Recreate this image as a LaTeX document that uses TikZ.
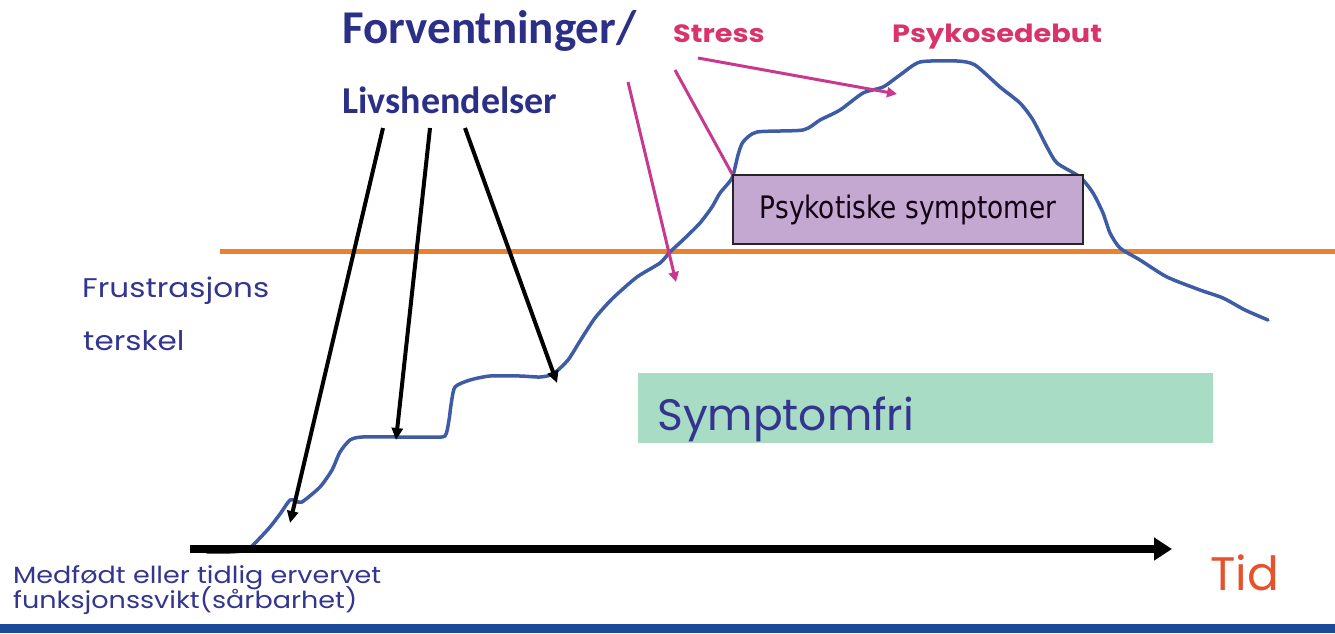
\documentclass[tikz,border=0pt]{standalone}
\usepackage{fontspec}
\setmainfont{Carlito}
\newfontfamily\comic{Poppins}
\newfontfamily\comicw[FakeStretch=1.15]{Poppins}
\newfontfamily\tahoma[FakeStretch=0.85]{DejaVu Sans}
\usetikzlibrary{arrows.meta}
\definecolor{titleblue}{HTML}{2B2F86}
\definecolor{comicblue}{HTML}{33358F}
\definecolor{pinktext}{HTML}{D8336B}
\definecolor{magarrow}{HTML}{C8388F}
\definecolor{orangeline}{HTML}{E98131}
\definecolor{curveblue}{HTML}{3E5BA6}
\definecolor{lavender}{HTML}{C4A8D2}
\definecolor{mint}{HTML}{A9DCC4}
\definecolor{tidred}{HTML}{E4532E}
\definecolor{barblue}{HTML}{1C4A9A}
\tikzset{
  txt/.style={anchor=base west, inner sep=0pt},
  titletxt/.style={txt, text=titleblue, font=\fontsize{47}{52}\selectfont\bfseries},
  subtitletxt/.style={txt, text=titleblue, font=\fontsize{38}{44}\selectfont\bfseries},
  pinklabel/.style={txt, text=pinktext, font=\comicw\fontsize{25}{28}\selectfont\bfseries},
  comictxt/.style={txt, text=comicblue, font=\comicw\fontsize{27}{30}\selectfont},
  smallcomic/.style={txt, text=comicblue, font=\comicw\fontsize{23.5}{26}\selectfont},
  blackarrow/.style={line width=4pt, -{Triangle[length=12pt,width=11pt]}},
  magline/.style={draw=magarrow, line width=3pt},
  magarrowstyle/.style={magline, -{Triangle[length=10pt,width=10pt]}},
}
\begin{document}
\begin{tikzpicture}[x=1pt, y=-1pt]
\useasboundingbox (0,0) rectangle (1335,633);
% bottom bar
\fill[barblue] (0,624) rectangle (1335,633);
% boxes
\node[fill=mint, minimum width=575pt, minimum height=70pt, inner sep=0pt] (symbox) at (925.5,408) {};
\node[txt, text=comicblue, font=\comic\fontsize{44}{50}\selectfont] (symtxt) at (657,430) {Symptomfri};
% threshold line
\coordinate (thrA) at (220,251);
\coordinate (thrB) at (1335,251);
\draw[orangeline, line width=5pt] (thrA) -- (thrB);
% curve
\draw[curveblue, line width=3.5pt, line join=round, line cap=round] plot[smooth, tension=0.4] coordinates {
(207,552) (230,552) (247,550) (258,540) (270,527) (280,514) (290,500) (296,501) (302,502) (320,487) (332,470) (340,452) (350,440) (362,437) (400,437) (430,437) (445,436) (449,420) (451,405) (455,387) (470,380) (490,376) (520,376) (540,377) (553,374) (568,360) (580,341) (595,318) (613,298) (637,277) (660,263) (670,252) (685,238) (700,223) (712,207) (720,193) (732,178) (738,155) (743,142) (757,132) (803,130) (820,120) (840,110) (863,93) (883,87) (900,75) (920,62) (957,61) (975,65) (1000,87) (1020,103) (1033,120) (1047,147) (1057,163) (1080,177) (1093,193) (1103,213) (1110,233) (1120,248) (1140,260) (1167,277) (1200,290) (1223,298) (1245,310) (1268,320)};
% psychotic symptoms box
\node[draw=black!85, line width=1.5pt, fill=lavender, minimum width=350pt, minimum height=69pt, inner sep=0pt, text=black!85!violet, font=\tahoma\fontsize{31}{36}\selectfont] (psy) at (908,209.5) {Psykotiske symptomer};
% axis
\coordinate (axA) at (190,549);
\coordinate (axB) at (1172,549);
\draw[line width=8pt, -{Triangle[length=18pt,width=22pt]}] (axA) -- (axB);
% texts
\node[titletxt] (forv) at (342,43) {Forventninger/};
\node[subtitletxt] (livs) at (342,113) {Livshendelser};
\node[pinklabel] (stress) at (673,42) {Stress};
\node[pinklabel] (debut) at (892,42) {Psykosedebut};
\node[comictxt] (frus) at (82,297) {Frustrasjons};
\node[comictxt] (tersk) at (83,350) {terskel};
\node[smallcomic] (medf) at (13,583) {Medfødt eller tidlig ervervet};
\node[smallcomic] (funk) at (13,608) {funksjonssvikt(sårbarhet)};
\node[txt, text=tidred, font=\comic\fontsize{47}{50}\selectfont] (tid) at (1210,590) {Tid};
% black arrows
\coordinate (l1s) at (383,128); \coordinate (l1e) at (290,523);
\coordinate (l2s) at (430,128); \coordinate (l2e) at (396,440);
\coordinate (l3s) at (465,128); \coordinate (l3e) at (557,383);
\draw[blackarrow] (l1s) -- (l1e);
\draw[blackarrow] (l2s) -- (l2e);
\draw[blackarrow] (l3s) -- (l3e);
% magenta arrows
\coordinate (m1s) at (628,82); \coordinate (m1e) at (676,282);
\coordinate (m2s) at (675,70);
\coordinate (m3s) at (698,58); \coordinate (m3e) at (897,94);
\draw[magarrowstyle] (m1s) -- (m1e);
\draw[magline] (m2s) -- (psy.north west);
\draw[magarrowstyle] (m3s) -- (m3e);
\end{tikzpicture}
\end{document}
